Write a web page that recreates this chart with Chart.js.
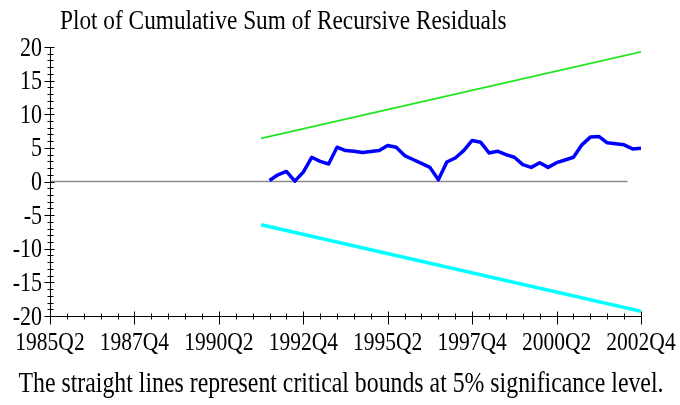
<!DOCTYPE html>
<html><head><meta charset="utf-8">
<script src="https://cdn.jsdelivr.net/npm/chart.js@4.4.0/dist/chart.umd.min.js"></script>
<style>html,body{margin:0;padding:0;background:#fff}canvas{display:block}</style>
</head><body>
<canvas id="c" width="680" height="405"></canvas>
<script>
// quarter index 0 = 1985Q2 ... 70 = 2002Q4
const xTickValues = [0, 10, 20, 30, 40, 50, 60, 70];
const xTickLabels = ['1985Q2','1987Q4','1990Q2','1992Q4','1995Q2','1997Q4','2000Q2','2002Q4'];
const yTickValues = [-20, -15, -10, -5, 0, 5, 10, 15, 20];
const yTickLabels = ['-20', '-15', '-10', '-5', '0', '5', '10', '15', '20'];
const cusumStart = 26; // 1991Q4
const cusum = [0.15, 1.0, 1.5, 0.05, 1.4, 3.6, 3.0, 2.6, 5.1, 4.6,
               4.5, 4.3, 4.45, 4.6, 5.35, 5.1, 3.85, 3.27, 2.7, 2.1,
               0.25, 2.9, 3.5, 4.6, 6.1, 5.85, 4.25, 4.5, 4.0, 3.6,
               2.5, 2.1, 2.8, 2.1, 2.8, 3.2, 3.6, 5.45, 6.6, 6.7,
               5.75, 5.6, 5.45, 4.85, 4.95];
const boundX = [25, 70];
const upperBound = [6.43, 19.29];
const lowerBound = [-6.43, -19.29];
const zeroLineX = [0, 68.4];
const zeroLineY = [0, 0];
const titleText = 'Plot of Cumulative Sum of Recursive Residuals';
const captionText = 'The straight lines represent critical bounds at 5% significance level.';

const FONT = '"Liberation Serif", "Times New Roman", serif';
const STRETCH = 1.2;

const cusumPts = cusum.map((v, i) => ({x: cusumStart + i, y: v}));
const upPts = boundX.map((x, i) => ({x, y: upperBound[i]}));
const loPts = boundX.map((x, i) => ({x, y: lowerBound[i]}));
const zeroPts = zeroLineX.map((x, i) => ({x, y: zeroLineY[i]}));

function stretchedText(ctx, text, x, y, align) {
  ctx.save();
  ctx.translate(x, y);
  ctx.scale(1, STRETCH);
  ctx.textAlign = align;
  ctx.textBaseline = 'alphabetic';
  ctx.fillText(text, 0, 0);
  ctx.restore();
}

const axesPlugin = {
  id: 'axesPlugin',
  afterDatasetsDraw(chart) {
    const {ctx, scales: {x, y}} = chart;
    ctx.save();
    ctx.strokeStyle = '#000';
    ctx.lineWidth = 1;
    const X0 = Math.round(x.getPixelForValue(0)) + 0.5;
    const Y0 = Math.round(y.getPixelForValue(-20)) + 0.5;
    ctx.beginPath();
    ctx.moveTo(X0, Math.round(y.getPixelForValue(20)));
    ctx.lineTo(X0, Y0);
    ctx.lineTo(Math.round(x.getPixelForValue(70)) + 0.5, Y0);
    for (let v = 0; v <= 70; v += 2) {
      const px = Math.round(x.getPixelForValue(v)) + 0.5;
      if (v % 10 === 0) { ctx.moveTo(px, Y0 - 5); ctx.lineTo(px, Y0 + 8); }
      else { ctx.moveTo(px, Y0 - 3); ctx.lineTo(px, Y0 + 3); }
    }
    for (let v = -20; v <= 20; v += 1) {
      const py = Math.round(y.getPixelForValue(v)) + 0.5;
      if (v % 5 === 0) { ctx.moveTo(X0 - 6, py); ctx.lineTo(X0 + 4, py); }
      else { ctx.moveTo(X0 - 3, py); ctx.lineTo(X0 + 3, py); }
    }
    ctx.stroke();

    // tick labels, placed by the library's scales
    ctx.fillStyle = '#000';
    ctx.font = '21.5px ' + FONT;
    xTickValues.forEach((v, i) => {
      stretchedText(ctx, xTickLabels[i], x.getPixelForValue(v), 349.5, 'center');
    });
    ctx.font = '22px ' + FONT;
    yTickValues.forEach((v, i) => {
      stretchedText(ctx, yTickLabels[i], 42, y.getPixelForValue(v) + 8.6, 'right');
    });
    ctx.restore();
  },
  afterDraw(chart) {
    const ctx = chart.ctx;
    ctx.save();
    ctx.fillStyle = '#000';
    ctx.font = '23.3px ' + FONT;
    stretchedText(ctx, titleText, 60, 29, 'left');
    ctx.font = '23.8px ' + FONT;
    stretchedText(ctx, captionText, 341, 392, 'center');
    ctx.restore();
  }
};

new Chart(document.getElementById('c'), {
  type: 'scatter',
  data: {
    datasets: [
      {data: cusumPts, showLine: true, borderColor: '#0000ff', borderWidth: 3.5, pointRadius: 0, order: 0, borderJoinStyle: 'round'},
      {data: upPts, showLine: true, borderColor: '#22e622', borderWidth: 1.8, pointRadius: 0, order: 1},
      {data: loPts, showLine: true, borderColor: '#00ffff', borderWidth: 3.5, pointRadius: 0, order: 2},
      {data: zeroPts, showLine: true, borderColor: '#8c8c8c', borderWidth: 1.5, pointRadius: 0, order: 3}
    ]
  },
  options: {
    responsive: false,
    animation: false,
    devicePixelRatio: 1,
    layout: {padding: {left: 0, right: 39, top: 47, bottom: 49}},
    plugins: {legend: {display: false}, tooltip: {enabled: false}, title: {display: false}},
    scales: {
      x: {
        type: 'linear', min: 0, max: 70,
        afterFit: s => { s.height = 40; s.paddingLeft = 0; s.paddingRight = 0; },
        afterBuildTicks: s => { s.ticks = xTickValues.map(v => ({value: v})); },
        grid: {display: false, drawTicks: false},
        border: {display: false},
        ticks: {display: false}
      },
      y: {
        type: 'linear', min: -20, max: 20,
        afterFit: s => { s.width = 50; s.paddingTop = 0; s.paddingBottom = 0; },
        afterBuildTicks: s => { s.ticks = yTickValues.map(v => ({value: v})); },
        grid: {display: false, drawTicks: false},
        border: {display: false},
        ticks: {display: false}
      }
    }
  },
  plugins: [axesPlugin]
});
</script>
</body></html>
